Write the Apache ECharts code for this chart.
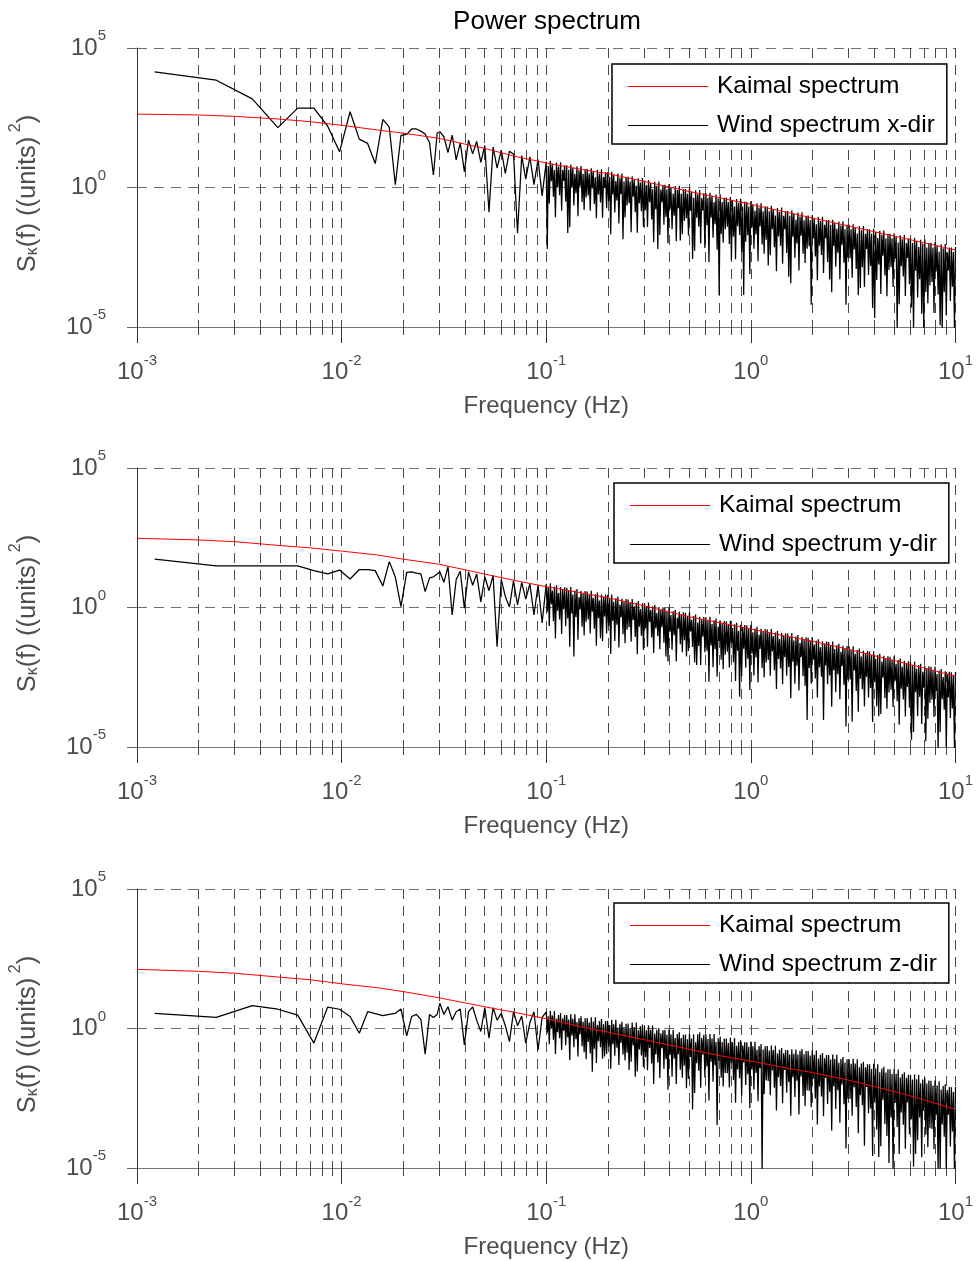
<!DOCTYPE html>
<html><head><meta charset="utf-8">
<script src="https://cdn.jsdelivr.net/npm/echarts@6/dist/echarts.min.js"></script>
<style>html,body{margin:0;padding:0;background:#fff}#c{width:976px;height:1261px}</style>
</head><body><div id="c"></div><script>
const titleText = 'Power spectrum';
const xName = 'Frequency (Hz)';
const kaimalName = 'Kaimal spectrum';
const windNames = ['Wind spectrum x-dir', 'Wind spectrum y-dir', 'Wind spectrum z-dir'];
const xTickValues = [0.001, 0.01, 0.1, 1, 10];
const xTickSup = ['-3', '-2', '-1', '0', '1'];
const yTickValues = [1e-5, 1, 1e5];
const yTickSup = ['-5', '0', '5'];

// Kaimal curves
const freqKaimal = [0.001, 0.002, 0.003, 0.005, 0.007, 0.01, 0.015, 0.02, 0.03, 0.05, 0.07, 0.1, 0.15, 0.2, 0.3, 0.5, 0.7, 1, 1.5, 2, 3, 5, 7, 10];
const kaimalX = [427, 398, 355, 282, 229, 170, 115, 89, 57.5, 25.1, 13.2, 7.6, 4.4, 3.16, 1.66, 0.72, 0.43, 0.25, 0.129, 0.081, 0.0417, 0.0182, 0.0105, 0.00575];
const kaimalY = [302, 263, 229, 166, 138, 105, 76, 54, 35.5, 15.8, 9.3, 5.6, 3.3, 2.24, 1.15, 0.468, 0.288, 0.17, 0.093, 0.062, 0.0316, 0.0126, 0.0068, 0.00347];
const kaimalZ = [132, 112, 95.5, 69, 56, 40, 29, 21, 12.6, 6.0, 3.8, 2.24, 1.12, 0.74, 0.40, 0.182, 0.107, 0.068, 0.038, 0.0263, 0.0141, 0.0056, 0.0028, 0.00126];

// Wind spectra, low/mid frequencies (< 0.1 Hz)
const freqLowMid = [
0.00122, 0.00244, 0.00366, 0.00488, 0.0061, 0.00732, 0.00854, 0.00977, 0.011, 0.0122, 0.0134, 0.0146, 0.0159, 0.0171, 0.0183, 0.0195, 0.0208, 0.022, 0.0232, 0.0244, 0.0256, 0.0269, 0.0281, 0.0293,
0.0302, 0.0316, 0.0331, 0.0347, 0.0363, 0.038, 0.0398, 0.0417, 0.0437, 0.0457, 0.0479, 0.0501, 0.0525, 0.055, 0.0575, 0.0603, 0.0631, 0.0661, 0.0692, 0.0724, 0.0759, 0.0794, 0.0832, 0.0871, 0.0912, 0.0955
];
const windXLowMid = [1.4e4, 7e3, 1.5e3, 140, 700, 700, 160, 19, 520, 54, 38, 7.2, 275, 145, 1.26, 74, 80, 125, 125, 105, 83, 40, 2.8, 90,
100, 66, 18, 76, 9.8, 40, 3.7, 50, 16, 45, 8, 32, 0.13, 28, 5, 22, 3.2, 20, 16, 0.023, 14, 2, 12.6, 1.26, 10, 0.5];
const windYLowMid = [54, 31, 31, 31, 31, 21, 16, 22, 10.5, 23, 23, 21, 5.9, 44, 12.3, 1.07, 18, 19, 17, 16, 3.7, 11.5, 12.6, 16,
19, 8, 29, 0.54, 10, 20, 0.95, 19, 6.3, 16, 1.6, 12.6, 4, 14, 0.039, 10, 2.5, 1.05, 9, 1.23, 8, 2, 7, 0.54, 6.3, 0.28];
const windZLowMid = [3.5, 2.5, 6.6, 4.9, 3, 0.3, 5.8, 4.9, 2.7, 0.68, 4, 3.4, 2.9, 3.2, 3.5, 5, 0.54, 2.7, 3.2, 2.1, 0.12, 3.2, 2.5, 3.2,
8, 3.2, 6, 2, 4, 5, 0.26, 4, 6, 2, 0.78, 5.6, 0.45, 5.6, 2, 3.5, 1.26, 0.34, 4, 1.26, 2.8, 0.3, 1.6, 4, 0.17, 2.5];

// Dense band (>= 0.1 Hz): local peaks and the dips between them
const freqDensePeak = [
0.1, 0.1023, 0.1047, 0.1072, 0.1096, 0.1122, 0.1148, 0.1175, 0.1202, 0.123,
0.1259, 0.1288, 0.1318, 0.1349, 0.138, 0.1413, 0.1445, 0.1479, 0.1514, 0.1549,
0.1585, 0.1622, 0.166, 0.1698, 0.1738, 0.1778, 0.182, 0.1862, 0.1905, 0.195,
0.1995, 0.2042, 0.2089, 0.2138, 0.2188, 0.2239, 0.2291, 0.2344, 0.2399, 0.2455,
0.2512, 0.257, 0.263, 0.2692, 0.2754, 0.2818, 0.2884, 0.2951,
0.302, 0.309, 0.316, 0.324, 0.331, 0.339, 0.347, 0.355, 0.363, 0.372,
0.380, 0.389, 0.398, 0.407, 0.417, 0.427, 0.437, 0.447, 0.457, 0.468,
0.479, 0.490, 0.501, 0.513, 0.525, 0.537, 0.550, 0.562, 0.575, 0.589,
0.603, 0.617, 0.631, 0.646, 0.661, 0.676, 0.692, 0.708, 0.724, 0.741,
0.759, 0.776, 0.794, 0.813, 0.832, 0.851, 0.871, 0.891, 0.912, 0.933,
0.955, 0.977, 1.0, 1.023, 1.047, 1.072, 1.096, 1.122, 1.148, 1.175,
1.202, 1.230, 1.259, 1.288, 1.318, 1.349, 1.380, 1.413, 1.445, 1.479,
1.514, 1.549, 1.585, 1.622, 1.660, 1.698, 1.738, 1.778, 1.820, 1.862,
1.905, 1.950, 1.995, 2.042, 2.089, 2.138, 2.188, 2.239, 2.291, 2.344,
2.399, 2.455, 2.512, 2.570, 2.630, 2.692, 2.754, 2.818, 2.884, 2.951,
3.020, 3.090, 3.162, 3.236, 3.311, 3.388, 3.467, 3.548, 3.631, 3.715,
3.802, 3.890, 3.981, 4.074, 4.169, 4.266, 4.365, 4.467, 4.571, 4.677,
4.786, 4.898, 5.012, 5.129, 5.248, 5.370, 5.495, 5.623, 5.754, 5.888,
6.026, 6.166, 6.310, 6.457, 6.607, 6.761, 6.918, 7.079, 7.244, 7.413,
7.586, 7.762, 7.943, 8.128, 8.318, 8.511, 8.710, 8.913, 9.120, 9.333,
9.550, 9.772, 10
];
const freqDenseDip = [
0.1012, 0.1035, 0.106, 0.1084, 0.1109, 0.1135, 0.1162, 0.1189, 0.1216, 0.1245,
0.1274, 0.1303, 0.1334, 0.1365, 0.1397, 0.1429, 0.1462, 0.1497, 0.1532, 0.1567,
0.1604, 0.1641, 0.1679, 0.1718, 0.1758, 0.1799, 0.1841, 0.1884, 0.1928, 0.1973,
0.2019, 0.2066, 0.2114, 0.2163, 0.2214, 0.2265, 0.2318, 0.2372, 0.2427, 0.2484,
0.2541, 0.26, 0.2661, 0.2723, 0.2786, 0.2851, 0.2918, 0.2986,
0.3055, 0.3125, 0.32, 0.3275, 0.335, 0.343, 0.351, 0.359, 0.3675, 0.376,
0.3845, 0.3935, 0.4025, 0.412, 0.422, 0.432, 0.442, 0.452, 0.4625, 0.4735,
0.4845, 0.4955, 0.507, 0.519, 0.531, 0.5435, 0.556, 0.5685, 0.582, 0.596,
0.61, 0.624, 0.6385, 0.6535, 0.6685, 0.684, 0.70, 0.716, 0.7325, 0.75,
0.7675, 0.785, 0.8035, 0.8225, 0.8415, 0.861, 0.881, 0.9015, 0.9225, 0.944,
0.966, 0.9885, 1.0115, 1.035, 1.0595, 1.084, 1.109, 1.135, 1.1615, 1.1885,
1.216, 1.2445, 1.2735, 1.303, 1.3335, 1.3645, 1.3965, 1.429, 1.462, 1.4965,
1.5315, 1.567, 1.6035, 1.641, 1.679, 1.718, 1.758, 1.799, 1.841, 1.8835,
1.9275, 1.9725, 2.0185, 2.0655, 2.1135, 2.163, 2.2135, 2.265, 2.3175, 2.3715,
2.427, 2.4835, 2.541, 2.6, 2.661, 2.723, 2.786, 2.851, 2.9175, 2.9855,
3.055, 3.126, 3.199, 3.2735, 3.3495, 3.4275, 3.5075, 3.5895, 3.673, 3.7585,
3.846, 3.9355, 4.0275, 4.1215, 4.2175, 4.3155, 4.416, 4.519, 4.624, 4.7315,
4.842, 4.955, 5.0705, 5.1885, 5.309, 5.4325, 5.559, 5.6885, 5.821, 5.957,
6.096, 6.238, 6.3835, 6.532, 6.684, 6.8395, 6.9985, 7.1615, 7.3285, 7.4995,
7.674, 7.8525, 8.0355, 8.223, 8.4145, 8.6105, 8.8115, 9.0165, 9.2265, 9.4415,
9.661, 9.886
];

const windXPeak = [
8.5, 5.85, 9, 6.9, 4.24, 7.8, 5.6, 8.1, 4.2, 6.2, 6.3, 4.3, 6.6, 5.1, 3.1, 5.75, 4.14, 5.9, 3.1, 4.55,
4.65, 3.2, 4.93, 3.82, 2.34, 4.35, 3.14, 4.52, 2.36, 3.48, 3.55, 2.42, 3.69, 2.82, 1.71, 3.14, 2.24, 3.18, 1.65, 2.4,
2.42, 1.65, 2.51, 1.92, 1.17, 2.14, 1.52, 2.17,
1.78, 1.22, 1.86, 1.43, 0.87, 1.6, 1.15, 1.64, 0.85, 1.24,
1.25, 0.86, 1.31, 1.0, 0.61, 1.13, 0.81, 1.15, 0.6, 0.87,
0.88, 0.6, 0.92, 0.71, 0.43, 0.79, 0.57, 0.81, 0.42, 0.62,
0.62, 0.43, 0.65, 0.5, 0.3, 0.56, 0.4, 0.57, 0.3, 0.43,
0.44, 0.3, 0.46, 0.35, 0.21, 0.39, 0.28, 0.4, 0.21, 0.31,
0.31, 0.21, 0.32, 0.24, 0.147, 0.27, 0.19, 0.27, 0.142, 0.21,
0.21, 0.142, 0.22, 0.166, 0.1, 0.185, 0.132, 0.19, 0.0975, 0.142,
0.144, 0.098, 0.149, 0.114, 0.069, 0.127, 0.091, 0.129, 0.067, 0.098,
0.099, 0.067, 0.103, 0.0785, 0.048, 0.0875, 0.0625, 0.089, 0.046, 0.067,
0.068, 0.046, 0.07, 0.054, 0.033, 0.06, 0.043, 0.061, 0.0316, 0.046,
0.0466, 0.0317, 0.0484, 0.037, 0.0225, 0.0413, 0.0295, 0.042, 0.0217, 0.0317,
0.032, 0.0218, 0.0333, 0.0255, 0.0155, 0.0284, 0.0203, 0.0288, 0.0149, 0.0218,
0.022, 0.015, 0.0229, 0.0175, 0.0106, 0.0195, 0.0139, 0.0198, 0.0103, 0.015,
0.0151, 0.0103, 0.0157, 0.012, 0.0073, 0.0134, 0.0096, 0.0136, 0.007, 0.0103,
0.0104, 0.0071, 0.0108, 0.0083, 0.005, 0.0092, 0.0066, 0.0094, 0.0048, 0.0071,
0.0071, 0.0049, 0.0074
];
const windXDip = [
0.0063, 0.267, 1.67, 0.468, 0.0865, 1.0, 0.525, 0.147, 1.71, 0.316, 0.0234, 0.0374, 1.0, 0.228, 0.621, 0.0933, 1.09, 0.304, 0.158, 0.435,
0.521, 0.146, 0.918, 0.258, 0.079, 0.56, 0.293, 0.0822, 0.962, 0.179, 0.324, 0.021, 0.558, 0.126, 0.341, 0.0509, 0.589, 0.0141, 0.0845, 0.229,
0.271, 0.0251, 0.468, 0.13, 0.0238, 0.275, 0.142, 0.0395,
0.158, 0.0385, 0.295, 0.0715, 0.011, 0.168, 0.0063, 0.0197, 0.3, 0.046,
0.0887, 0.01, 0.165, 0.0318, 0.097, 0.0118, 0.18, 0.0126, 0.0212, 0.0647,
0.0787, 0.0191, 0.1466, 0.00275, 0.00543, 0.083, 0.0403, 0.0098, 0.149, 0.0068,
0.044, 0.00213, 0.082, 0.0158, 0.0482, 0.00586, 1.4e-4, 0.0218, 0.0105, 0.0321,
0.0391, 0.0095, 0.0025, 0.0176, 0.0027, 0.0413, 0.02, 0.00485, 1.4e-4, 0.0114,
0.0193, 8e-4, 0.037, 0.00644, 0.0207, 0.00227, 0.0398, 0.009, 0.0042, 0.0135,
0.0016, 0.0037, 0.0318, 0.0072, 0.001, 0.0175, 0.0082, 0.00184, 0.0323, 0.0045,
6.3e-4, 3.7e-4, 0.0171, 0.00304, 0.0098, 0.00107, 0.0188, 0.00424, 0.00198, 0.00638,
0.00783, 6.3e-5, 0.015, 0.00339, 4.7e-4, 0.00826, 0.00385, 8.7e-4, 0.0152, 0.00212,
5e-4, 1.75e-4, 0.0081, 0.00144, 0.00462, 5.1e-4, 0.00887, 0.002, 6.3e-5, 0.003,
0.00294, 5.8e-4, 0.006, 0.00119, 1.37e-4, 2.5e-4, 0.00138, 2.7e-4, 0.00627, 7.3e-4,
0.00155, 4.8e-5, 2.1e-5, 4.8e-4, 0.00173, 1.54e-4, 0.00356, 7e-4, 1.26e-4, 0.0011,
0.00139, 2.7e-4, 0.00284, 8e-6, 6.5e-5, 0.0015, 6.5e-4, 1.28e-4, 0.00296, 3.4e-4,
5e-5, 7.5e-6, 0.00104, 1.14e-4, 5.2e-4, 3e-5, 8e-6, 1.8e-4, 6.9e-5, 3.1e-4,
4.1e-4, 3.2e-5, 9.7e-4, 1.45e-4, 1.16e-5, 8e-6, 1.77e-4, 2.6e-5, 0.00106, 8.5e-5,
2.8e-4, 8e-6
];

const windYPeak = [
7.1, 5.45, 7.45, 4.06, 5.55, 6.3, 3.29, 5.4, 4.36, 5.3, 5.14, 3.95, 5.4, 2.94, 4.04, 4.6, 2.39, 3.93, 3.16, 3.87,
3.76, 2.9, 3.98, 2.18, 2.99, 3.41, 1.78, 2.94, 2.37, 2.9, 2.82, 2.16, 2.94, 1.59, 2.16, 2.45, 1.27, 2.07, 1.66, 2.02,
1.95, 1.49, 2.03, 1.1, 1.49, 1.69, 0.875, 1.43,
1.45, 1.1, 1.5, 0.81, 1.1, 1.24, 0.64, 1.04, 0.84, 1.01,
0.97, 0.74, 1.0, 0.54, 0.74, 0.83, 0.43, 0.7, 0.56, 0.68,
0.65, 0.5, 0.67, 0.365, 0.5, 0.56, 0.29, 0.47, 0.38, 0.46,
0.45, 0.34, 0.47, 0.256, 0.35, 0.4, 0.206, 0.34, 0.27, 0.33,
0.32, 0.246, 0.336, 0.183, 0.25, 0.284, 0.147, 0.24, 0.195, 0.237,
0.23, 0.176, 0.24, 0.13, 0.178, 0.202, 0.105, 0.172, 0.139, 0.169,
0.163, 0.125, 0.171, 0.093, 0.127, 0.144, 0.0748, 0.123, 0.0989, 0.12,
0.116, 0.0893, 0.122, 0.0662, 0.0906, 0.103, 0.0533, 0.0877, 0.0705, 0.0857,
0.083, 0.0637, 0.087, 0.0472, 0.0643, 0.0728, 0.0377, 0.0615, 0.0493, 0.0598,
0.0577, 0.0442, 0.0601, 0.0326, 0.0444, 0.05, 0.026, 0.0425, 0.034, 0.0413,
0.0398, 0.0303, 0.0411, 0.0221, 0.03, 0.0338, 0.0174, 0.0284, 0.0226, 0.0273,
0.0262, 0.02, 0.027, 0.0146, 0.0197, 0.0222, 0.0115, 0.0187, 0.0149, 0.0179,
0.0172, 0.0131, 0.0178, 0.0096, 0.013, 0.0147, 0.00755, 0.0123, 0.0098, 0.0119,
0.0114, 0.0087, 0.0117, 0.00634, 0.0086, 0.0097, 0.00499, 0.0081, 0.00647, 0.00778,
0.00745, 0.00566, 0.00764, 0.00411, 0.00556, 0.00625, 0.00321, 0.00521, 0.00415, 0.00499,
0.00478, 0.00363, 0.0049
];
const windYDip = [
0.708, 0.217, 1.32, 0.322, 0.0783, 0.76, 0.369, 0.113, 0.869, 0.211, 0.408, 0.0395, 0.607, 0.0174, 0.453, 0.0695, 0.847, 0.206, 0.1, 0.308,
0.376, 0.116, 0.708, 0.173, 0.0422, 0.41, 0.0794, 0.0614, 0.473, 0.116, 0.224, 0.0216, 0.33, 0.0634, 0.243, 0.0371, 0.45, 0.109, 0.0526, 0.16,
0.195, 0.0593, 0.361, 0.0871, 0.0211, 0.203, 0.0982, 0.0299,
0.178, 0.039, 0.305, 0.0847, 0.0235, 0.179, 0.0925, 0.0316, 0.196, 0.0542,
0.0174, 0.0117, 0.136, 0.0305, 0.102, 0.0115, 0.175, 0.0485, 0.0251, 0.0678,
0.0174, 0.0274, 0.138, 0.0382, 0.0106, 0.0087, 0.0417, 0.0087, 0.0893, 0.0249,
0.0283, 0.00217, 0.0439, 0.00721, 0.0318, 0.0033, 0.0637, 0.0135, 0.0061, 0.0209,
0.0261, 0.0071, 0.052, 0.011, 0.00233, 0.0284, 6.3e-4, 0.00349, 0.033, 0.00698,
0.0145, 0.00111, 0.0224, 0.00367, 0.0163, 0.00207, 0.0324, 0.00686, 0.0031, 0.0106,
0.0132, 0.00361, 0.0265, 0.0056, 0.00119, 0.0144, 0.00652, 0.00177, 0.0168, 0.00355,
0.00733, 5.6e-4, 0.0114, 0.00187, 0.00826, 0.00105, 0.0165, 0.00349, 0.00158, 9.3e-5,
0.00675, 0.00184, 0.0135, 0.00284, 6e-4, 0.00728, 0.00328, 9.3e-5, 0.00838, 0.00177,
0.00364, 2.8e-4, 0.00561, 9.2e-4, 0.00405, 5.1e-4, 0.00802, 0.00169, 5.4e-5, 0.0026,
0.00263, 8e-5, 0.00555, 0.00101, 1.85e-4, 0.00281, 0.00118, 2.84e-4, 0.00327, 6e-4,
0.00131, 7.9e-5, 0.0021, 2.9e-4, 1.26e-4, 1.54e-4, 0.00308, 5.6e-4, 2.35e-4, 9e-4,
0.00114, 2.74e-4, 0.0024, 4.4e-4, 6.3e-5, 0.00122, 5.1e-4, 1.23e-4, 0.00142, 2.6e-4,
1.8e-5, 3.45e-5, 9.1e-4, 1.26e-4, 6.4e-4, 6.7e-5, 0.00134, 1.6e-5, 1.03e-4, 3.9e-4,
4.9e-4, 1.18e-4, 0.00103, 8e-6, 3.4e-5, 5.2e-4, 2.17e-4, 8e-6, 6e-4, 1.09e-4,
2.4e-4, 8e-6
];

const windZPeak = [
3.98, 2.74, 4.25, 2.92, 4.21, 2.21, 3.03, 3.55, 2.29, 3.01, 3.06, 2.11, 3.27, 2.25, 3.24, 1.7, 2.33, 2.74, 1.76, 2.32,
2.38, 1.64, 2.55, 1.77, 2.55, 1.34, 1.85, 2.18, 1.41, 1.86, 1.9, 1.32, 2.04, 1.41, 2.04, 1.07, 1.48, 1.74, 1.12, 1.49,
1.52, 1.05, 1.63, 1.13, 1.63, 0.86, 1.19, 1.39,
1.26, 0.86, 1.31, 0.9, 1.28, 0.66, 0.9, 1.04, 0.67, 0.87,
0.875, 0.6, 0.91, 0.62, 0.89, 0.46, 0.63, 0.73, 0.46, 0.6,
0.61, 0.415, 0.63, 0.434, 0.62, 0.32, 0.62, 0.72, 0.46, 0.6,
0.61, 0.42, 0.64, 0.44, 0.63, 0.33, 0.45, 0.52, 0.33, 0.44,
0.44, 0.304, 0.47, 0.32, 0.46, 0.24, 0.33, 0.38, 0.243, 0.318,
0.323, 0.221, 0.339, 0.232, 0.333, 0.173, 0.237, 0.277, 0.177, 0.231,
0.234, 0.161, 0.247, 0.169, 0.243, 0.126, 0.173, 0.201, 0.129, 0.169,
0.171, 0.117, 0.18, 0.124, 0.177, 0.116, 0.159, 0.185, 0.119, 0.155,
0.157, 0.108, 0.166, 0.114, 0.162, 0.0841, 0.115, 0.133, 0.0851, 0.111,
0.112, 0.0767, 0.117, 0.0804, 0.115, 0.0596, 0.0813, 0.0944, 0.0603, 0.0785,
0.0794, 0.054, 0.082, 0.0557, 0.079, 0.0407, 0.0552, 0.0637, 0.0404, 0.0522,
0.0525, 0.0356, 0.0542, 0.0368, 0.0522, 0.0269, 0.0365, 0.0421, 0.0267, 0.0345,
0.0347, 0.0235, 0.0355, 0.024, 0.0339, 0.0174, 0.0234, 0.0269, 0.017, 0.0219,
0.0219, 0.0148, 0.0224, 0.0151, 0.0214, 0.011, 0.0148, 0.017, 0.0106, 0.0136,
0.0135, 0.00906, 0.0136, 0.00912, 0.0128, 0.0065, 0.0087, 0.00993, 0.00621, 0.00794,
0.00789, 0.00528, 0.00794
];
const windZDip = [
0.708, 0.271, 1.04, 0.398, 0.121, 0.736, 0.447, 0.171, 0.826, 0.251, 0.482, 0.0736, 0.562, 0.215, 0.414, 0.1, 0.607, 0.233, 0.141, 0.0794,
0.331, 0.127, 0.0282, 0.188, 0.0575, 0.351, 0.214, 0.0822, 0.1, 0.122, 0.234, 0.0359, 0.275, 0.106, 0.204, 0.0495, 0.302, 0.116, 0.0708, 0.136,
0.0324, 0.0638, 0.245, 0.0186, 0.0288, 0.176, 0.107, 0.0412,
0.0933, 0.0319, 0.199, 0.0553, 0.0102, 0.118, 0.061, 0.0169, 0.197, 0.0361,
0.0798, 0.0064, 0.112, 0.0186, 0.0849, 0.0103, 0.119, 0.0332, 0.0172, 0.0468,
0.00724, 0.0154, 0.0959, 0.00126, 0.00491, 0.0569, 0.0309, 0.00752, 0.115, 0.0177,
0.0432, 0.00264, 0.0641, 0.0124, 0.0478, 3.5e-4, 0.0711, 0.0173, 0.00839, 0.0257,
0.0249, 0.00764, 0.0587, 0.0143, 0.00219, 0.0337, 0.0164, 0.00398, 0.0611, 0.00938,
0.0229, 0.0014, 0.0339, 0.00655, 0.0253, 0.00245, 0.0376, 7e-6, 0.00445, 0.0136,
0.0132, 0.00405, 0.0311, 0.00757, 0.00116, 0.0179, 0.00867, 0.00211, 0.0324, 0.00498,
0.0121, 7.4e-4, 0.018, 0.00348, 0.0135, 8.2e-4, 0.0191, 0.00378, 0.00166, 0.00603,
0.00583, 0.00151, 0.0158, 0.00313, 3.6e-4, 0.00841, 0.00367, 7.2e-4, 0.0168, 0.00195,
0.00543, 2.19e-4, 0.00861, 0.0013, 0.00617, 4.2e-4, 0.00977, 0.00193, 5e-5, 0.00305,
0.00295, 7.5e-4, 0.00783, 0.00153, 1.77e-4, 0.00407, 0.00177, 6.3e-5, 0.00796, 9.2e-4,
0.00135, 2.7e-5, 0.00237, 2.38e-4, 2.5e-5, 6e-5, 0.00277, 3.8e-4, 1.4e-4, 1.5e-5,
6.5e-4, 7e-6, 0.00214, 2.95e-4, 3.2e-5, 9.8e-4, 3.55e-4, 4.9e-5, 0.00224, 1.62e-4,
5.6e-4, 1.12e-5, 3.2e-5, 9.8e-5, 6.5e-4, 2.45e-5, 0.00112, 1.55e-4, 5.6e-5, 2.65e-4,
2.5e-4, 4.75e-5, 8.2e-4, 7e-6, 8.1e-6, 3.65e-4, 1.32e-4, 7e-6, 8.2e-4, 5.9e-5,
2.03e-4, 7e-6
];

const F = '"Liberation Sans", Arial, Helvetica, sans-serif';
const GRAY = '#4d4d4d';
const gridTops = [48, 468, 889];
const legendPos = [[612, 64], [614, 483], [614, 903]];
const kaimalSets = [kaimalX, kaimalY, kaimalZ];
const windSets = [
  [windXLowMid, windXPeak, windXDip],
  [windYLowMid, windYPeak, windYDip],
  [windZLowMid, windZPeak, windZDip]
];

function buildWind(set) {
  const pts = freqLowMid.map((f, k) => [f, set[0][k]]);
  for (let n = 0; n < freqDensePeak.length; n++) {
    pts.push([freqDensePeak[n], set[1][n]]);
    if (n < freqDenseDip.length) pts.push([freqDenseDip[n], set[2][n]]);
  }
  return pts;
}

function supFormatter(values, sups) {
  return function (v) {
    for (let i = 0; i < values.length; i++) {
      if (Math.abs(Math.log10(v / values[i])) < 1e-3) return '{b|10}{s|' + sups[i] + '}';
    }
    return '';
  };
}
const tickRich = {
  b: { fontSize: 24, color: GRAY, fontFamily: F },
  s: { fontSize: 15, color: GRAY, fontFamily: F, padding: [0, 0, 24, 0] }
};
const dash = [10, 7];

const grids = [], xAxes = [], yAxes = [], series = [], legends = [];
for (let i = 0; i < 3; i++) {
  grids.push({ left: 137, right: 18, top: gridTops[i], height: 279, containLabel: false });
  xAxes.push({
    type: 'log', logBase: 10, min: 0.001, max: 10, gridIndex: i,
    axisLine: { show: true, onZero: false, lineStyle: { color: '#777', width: 1 } },
    axisTick: { show: true, inside: false, length: 16, lineStyle: { color: '#333', width: 1 } },
    minorTick: { show: true, splitNumber: 9, length: 8, lineStyle: { color: '#444', width: 1 } },
    splitLine: { show: true, lineStyle: { color: '#4a4a4a', width: 1, type: dash } },
    minorSplitLine: { show: true, lineStyle: { color: '#4a4a4a', width: 1, type: dash } },
    axisLabel: { margin: 26, formatter: supFormatter(xTickValues, xTickSup), rich: tickRich },
    name: xName, nameLocation: 'middle', nameGap: 67,
    nameTextStyle: { fontSize: 24, color: GRAY, fontFamily: F }
  });
  yAxes.push({
    type: 'log', logBase: 10, min: 1e-5, max: 1e5, gridIndex: i,
    axisLine: { show: true, lineStyle: { color: '#333', width: 1 } },
    axisTick: { show: true, inside: false, length: 17, lineStyle: { color: '#666', width: 1, type: dash } },
    minorTick: { show: false },
    splitLine: { show: true, lineStyle: { color: '#707070', width: 1.2, type: dash } },
    axisLabel: { margin: 31, formatter: supFormatter(yTickValues, yTickSup), rich: tickRich },
    name: '{n|S}{sub|\u03ba}{n|(f) ((units)}{sup| 2}{e|)}',
    nameLocation: 'middle', nameRotate: 90, nameGap: 89,
    nameTextStyle: {
      fontSize: 25.5, color: GRAY, fontFamily: F,
      rich: {
        n: { fontSize: 25.5, color: GRAY, fontFamily: F },
        e: { fontSize: 25.5, color: GRAY, fontFamily: F, padding: [0, 12, 0, 0] },
        sub: { fontSize: 16, color: GRAY, fontFamily: F, padding: [10, 0, 0, 0] },
        sup: { fontSize: 16, color: GRAY, fontFamily: F, padding: [0, 0, 24, 0] }
      }
    }
  });
  series.push({
    name: windNames[i], type: 'line', xAxisIndex: i, yAxisIndex: i,
    data: buildWind(windSets[i]),
    symbol: 'none', showSymbol: false, z: 2, sampling: null,
    lineStyle: { color: '#000', width: 1.25, join: 'bevel' }, itemStyle: { color: '#000' }
  });
  series.push({
    name: kaimalName, type: 'line', xAxisIndex: i, yAxisIndex: i,
    data: freqKaimal.map((f, k) => [f, kaimalSets[i][k]]),
    symbol: 'none', showSymbol: false, z: 3,
    lineStyle: { color: '#ff0000', width: 1 }, itemStyle: { color: '#ff0000' }
  });
  legends.push({
    show: true, orient: 'vertical', left: legendPos[i][0], top: legendPos[i][1],
    padding: [10, 12, 6, 16], itemGap: 14, itemWidth: 80, itemHeight: 1.2,
    icon: 'rect',
    borderColor: '#000', borderWidth: 1.5, borderRadius: 0, backgroundColor: '#fff',
    selectedMode: false, z: 10,
    textStyle: { fontSize: 24.5, color: '#000', fontFamily: F, padding: [0, 0, 0, 4] },
    data: [kaimalName, windNames[i]]
  });
}

const chart = echarts.init(document.getElementById('c'), null, { renderer: 'canvas' });
chart.setOption({
  animation: false,
  backgroundColor: '#fff',
  title: { text: titleText, left: 542, top: 4, textAlign: 'center',
    textStyle: { fontSize: 26, fontWeight: 'normal', color: '#000', fontFamily: F } },
  legend: legends,
  grid: grids,
  xAxis: xAxes,
  yAxis: yAxes,
  series: series
});
</script></body></html>
